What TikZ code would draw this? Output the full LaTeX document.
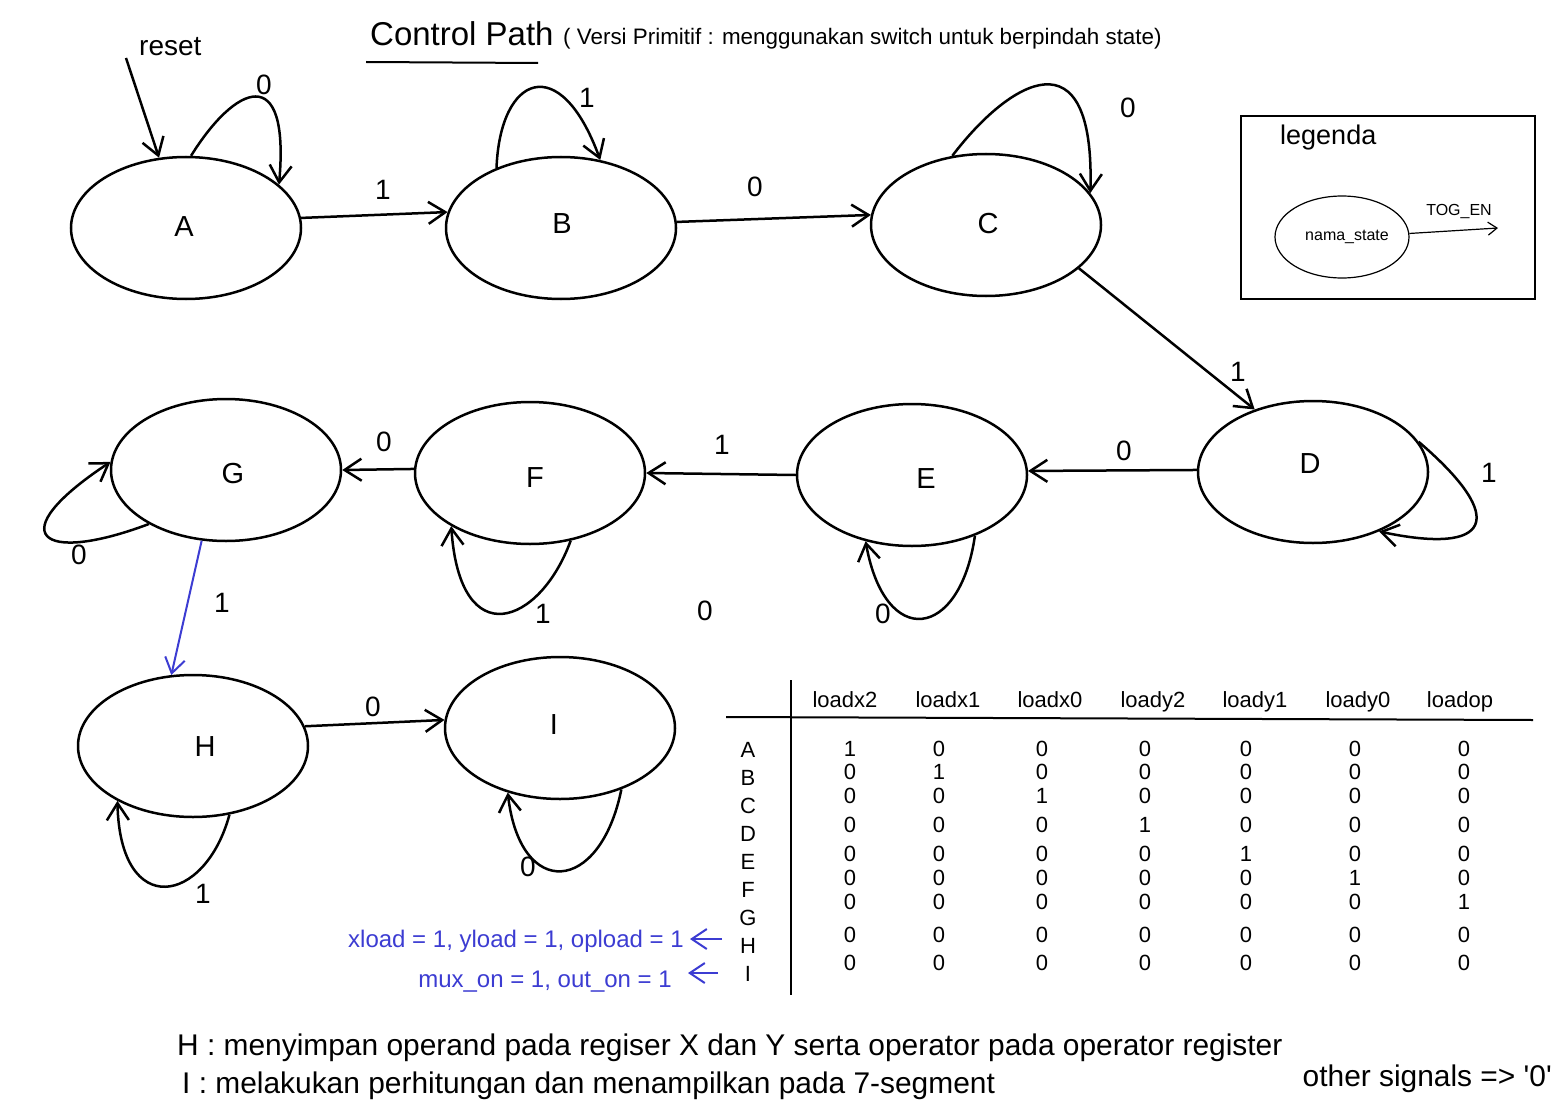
\documentclass[tikz,border=0pt]{standalone}
\usepackage{fontspec}
\setmainfont{Liberation Sans}
\usetikzlibrary{shapes.geometric,arrows.meta}
\definecolor{sigblue}{RGB}{60,60,210}
\newcommand{\fsz}[1]{\fontsize{#1}{#1}\selectfont}

\begin{document}
\begin{tikzpicture}[x=1pt,y=-1pt]
  \tikzset{
    state/.style={draw, ellipse, line width=2.5pt, minimum width=230pt, minimum height=142pt, inner sep=0pt},
    stname/.style={font=\fsz{29}, inner sep=0pt},
    line/.style={draw, line width=2.5pt, -{Straight Barb[length=17pt,width=22pt]}},
    bline/.style={draw=sigblue, line width=2pt, -{Straight Barb[length=15pt,width=20pt]}},
    tline/.style={draw, line width=1.2pt, -{Straight Barb[length=9pt,width=13pt]}},
    lbl/.style={font=\fsz{28}, inner sep=0pt},
    cell/.style={font=\fsz{22}, inner sep=0pt, anchor=base},
    sig/.style={text=sigblue, font=\fsz{24}, inner ysep=0pt, anchor=base east},
    note/.style={font=\fsz{29.9}, inner sep=0pt}
  }
  \useasboundingbox (0,0) rectangle (1552,1102);

  \node [anchor=base west, font=\fsz{33}, inner sep=0pt] (title) at (370,46) {Control Path};
  \node [anchor=base west, font=\fsz{22.4}, inner sep=0pt] (subtitle) at (563,45) {( Versi Primitif : menggunakan switch untuk berpindah state)};
  \draw [line width=2pt] (366,62) -- (538,63);

  \node [state, label={[stname,xshift=-2pt,yshift=1pt]center:A}] (A) at (186,228) {};
  \node [state, label={[stname,xshift=1pt,yshift=4pt]center:B}] (B) at (561,228) {};
  \node [state, label={[stname,xshift=2pt,yshift=1pt]center:C}] (C) at (986,225) {};
  \node [state, label={[stname,xshift=-3pt,yshift=8pt]center:D}] (D) at (1313,472) {};
  \node [state, label={[stname,xshift=14pt,yshift=-4pt]center:E}] (E) at (912,475) {};
  \node [state, label={[stname,xshift=5pt,yshift=-5pt]center:F}] (F) at (530,473) {};
  \node [state, label={[stname,xshift=7pt,yshift=-4pt]center:G}] (G) at (226,470) {};
  \node [state, label={[stname,xshift=12pt,yshift=-1pt]center:H}] (H) at (193,746) {};
  \node [state, label={[stname,xshift=-6pt,yshift=3pt]center:I}] (I) at (560,728) {};

  \node [lbl, anchor=base west] (reset) at (139,56) {reset};
  \coordinate (rst) at (126,58);
  \path [line] (rst) -- (A.111);

  \path [line] (A.86) .. controls (235,85) and (290,60) .. (A.25) node [lbl] (lA) at (264,85) {0};
  \path [line] (A.5) -- (B.172) node [lbl] (lAB) at (383,190) {1};
  \path [line] (B.137) .. controls (500,75) and (560,50) .. (B.60) node [lbl] (lB) at (587,98) {1};
  \path [line] (B.3) -- (C.175) node [lbl] (lBC) at (755,187) {0};
  \path [line] (C.116) .. controls (1010,80) and (1095,30) .. (C.17) node [lbl] (lC) at (1128,108) {0};
  \path [line] (C.-25) -- (D.133) node [lbl] (lCD) at (1238,372) {1};
  \path [line] (D.16) .. controls (1510,520) and (1490,555) .. (D.-42) node [lbl] (lD) at (1489,473) {1};
  \path [line] (D.179) -- (E.2) node [lbl] (lDE) at (1124,451) {0};
  \path [line] (E.-44) .. controls (960,640) and (885,650) .. (E.-125) node [lbl] (lE) at (883,614) {0};
  \path [line] (E.180) -- (F.0) node [lbl] (lEF) at (722,445) {1};
  \path [line] (F.-59) .. controls (540,625) and (460,655) .. (F.-146) node [lbl] (lF) at (543,614) {1};
  \path [line] (F.178) -- (G.0) node [lbl] (lFG) at (384,442) {0};
  \path [line] (G.-145) .. controls (40,565) and (0,535) .. (G.176) node [lbl] (lG) at (79,555) {0};
  \path [bline] (G.-109) -- (H.107) node [lbl] (lGH) at (222,603) {1};
  \node [lbl] (lX) at (705,611) {0};
  \path [line] (H.-62) .. controls (205,905) and (120,920) .. (H.-144) node [lbl] (lH) at (203,894) {1};
  \path [line] (H.10) -- (I.176) node [lbl] (lHI) at (373,707) {0};
  \path [line] (I.-45) .. controls (600,895) and (520,900) .. (I.-129) node [lbl] (lI) at (528,867) {0};

  % legenda
  \draw [line width=2pt] (1241,116) rectangle (1535,299);
  \node [font=\fsz{27}, inner sep=0pt, anchor=base west] (legenda) at (1280,145) {legenda};
  \node [draw, ellipse, line width=1.2pt, minimum width=134pt, minimum height=82pt, inner sep=0pt, font=\fsz{16}] (legstate) at (1342,237) {\hspace*{10pt}nama\_state};
  \coordinate (legptr) at (1498,228);
  \path [tline] (legstate.3) -- (legptr) node [font=\fsz{16}, inner sep=0pt, anchor=base] (togen) at (1459,215) {TOG\_EN};

  % tabel output
  \draw [line width=2pt] (791,680) -- (791,995);
  \draw [line width=2pt] (726,717) -- (1533,720);
  \foreach \h/\xx [count=\j] in {loadx2/845, loadx1/948, loadx0/1050, loady2/1153, loady1/1255, loady0/1358, loadop/1460}
    \node [cell] (h\j) at (\xx,707) {\h};
  \foreach \r [count=\i] in {A,B,C,D,E,F,G,H,I}
    \node [cell] (r\r) at (748,729+28*\i) {\r};
  \foreach \yy [count=\i] in {748,771,795,824,853,877,901,934,962}
    \foreach \xx [count=\j] in {850,939,1042,1145,1246,1355,1464}
      \node [cell] (v\i-\j) at (\xx,\yy+8) {\ifnum\i=\j\relax 1\else 0\fi};

  \node [sig, inner xsep=6pt] (sigH) at (690,947) {xload = 1, yload = 1, opload = 1};
  \node [sig, inner xsep=16pt] (sigI) at (688,987) {mux\_on = 1, out\_on = 1};
  \coordinate (hptr) at (722,939);
  \coordinate (iptr) at (718,973);
  \path [bline] (hptr) -- (hptr -| sigH.east);
  \path [bline] (iptr) -- (iptr -| sigI.east);

  \node [note, anchor=base west] (noteH) at (177,1055) {H : menyimpan operand pada regiser X dan Y serta operator pada operator register};
  \node [note, anchor=base west] (noteI) at (182,1093) {I : melakukan perhitungan dan menampilkan pada 7-segment};
  \node [note, anchor=base east] (other) at (1552,1086) {other signals => \textquotesingle0\textquotesingle};
\end{tikzpicture}
\end{document}
